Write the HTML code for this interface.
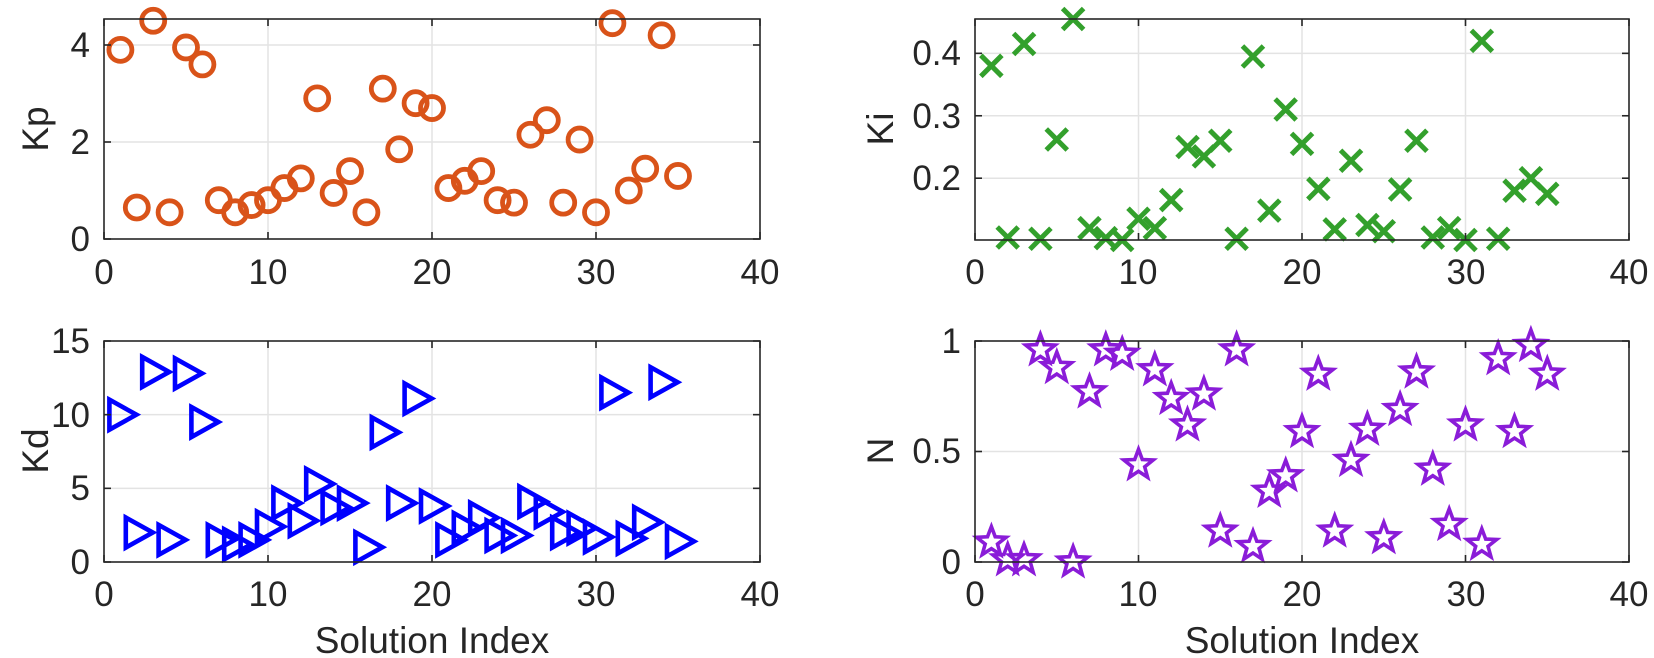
<!DOCTYPE html>
<html><head><meta charset="utf-8"><style>
html,body{margin:0;padding:0;background:#fff;}
svg{display:block;}
text{font-family:"Liberation Sans",sans-serif;fill:#262626;}
</style></head><body>
<svg id="s" width="1654" height="658" viewBox="0 0 1654 658" xmlns="http://www.w3.org/2000/svg">
<g id="grid"></g>
<g id="marks"></g>
<g id="axes"></g>
<g font-size="35">
<text x="104" y="284" text-anchor="middle">0</text>
<text x="268" y="284" text-anchor="middle">10</text>
<text x="432" y="284" text-anchor="middle">20</text>
<text x="596" y="284" text-anchor="middle">30</text>
<text x="760" y="284" text-anchor="middle">40</text>
<text x="975" y="284" text-anchor="middle">0</text>
<text x="1138" y="284" text-anchor="middle">10</text>
<text x="1302" y="284" text-anchor="middle">20</text>
<text x="1466" y="284" text-anchor="middle">30</text>
<text x="1629" y="284" text-anchor="middle">40</text>
<text x="104" y="606" text-anchor="middle">0</text>
<text x="268" y="606" text-anchor="middle">10</text>
<text x="432" y="606" text-anchor="middle">20</text>
<text x="596" y="606" text-anchor="middle">30</text>
<text x="760" y="606" text-anchor="middle">40</text>
<text x="975" y="606" text-anchor="middle">0</text>
<text x="1138" y="606" text-anchor="middle">10</text>
<text x="1302" y="606" text-anchor="middle">20</text>
<text x="1466" y="606" text-anchor="middle">30</text>
<text x="1629" y="606" text-anchor="middle">40</text>
<text x="90" y="251" text-anchor="end">0</text>
<text x="90" y="154" text-anchor="end">2</text>
<text x="90" y="57" text-anchor="end">4</text>
<text x="961" y="65" text-anchor="end">0.4</text>
<text x="961" y="128" text-anchor="end">0.3</text>
<text x="961" y="190" text-anchor="end">0.2</text>
<text x="90" y="574" text-anchor="end">0</text>
<text x="90" y="500" text-anchor="end">5</text>
<text x="90" y="427" text-anchor="end">10</text>
<text x="90" y="353" text-anchor="end">15</text>
<text x="961" y="574" text-anchor="end">0</text>
<text x="961" y="463" text-anchor="end">0.5</text>
<text x="961" y="353" text-anchor="end">1</text>
</g>
<g font-size="37">
<text x="432" y="653" text-anchor="middle">Solution Index</text>
<text x="1302" y="653" text-anchor="middle">Solution Index</text>
<text transform="translate(48,129) rotate(-90)" text-anchor="middle">Kp</text>
<text transform="translate(893,129) rotate(-90)" text-anchor="middle">Ki</text>
<text transform="translate(48,451) rotate(-90)" text-anchor="middle">Kd</text>
<text transform="translate(893,451) rotate(-90)" text-anchor="middle">N</text>
</g>
</svg>
<script>
var NS="http://www.w3.org/2000/svg";
function el(p,t,a){var e=document.createElementNS(NS,t);for(var k in a)e.setAttribute(k,a[k]);p.appendChild(e);return e;}
var G=document.getElementById('grid'),M=document.getElementById('marks'),A=document.getElementById('axes');
var P=[
 {l:104,r:760,t:19,b:239,y0:0,y1:4.536,yt:[0,2,4],m:'o',c:'#D95319',
  d:[3.9,0.65,4.5,0.55,3.95,3.6,0.8,0.55,0.7,0.8,1.05,1.25,2.9,0.95,1.4,0.55,3.1,1.85,2.8,2.7,1.05,1.2,1.4,0.8,0.75,2.15,2.45,0.75,2.05,0.55,4.45,1.0,1.45,4.2,1.3]},
 {l:975,r:1629,t:19,b:240,y0:0.101,y1:0.455,yt:[0.2,0.3,0.4],m:'x',c:'#33A02C',
  d:[0.38,0.105,0.415,0.103,0.262,0.455,0.12,0.104,0.101,0.135,0.12,0.165,0.25,0.235,0.26,0.103,0.395,0.148,0.31,0.255,0.183,0.118,0.228,0.125,0.115,0.182,0.26,0.105,0.12,0.101,0.42,0.103,0.18,0.2,0.175]},
 {l:104,r:760,t:341,b:562,y0:0,y1:15,yt:[0,5,10,15],m:'t',c:'#0000FF',
  d:[10,2,12.9,1.5,12.8,9.5,1.5,1.2,1.5,2.4,4.0,2.8,5.3,3.7,4.0,1.0,8.8,4.0,11.1,3.8,1.5,2.3,3.0,1.8,1.8,4.1,3.4,2.0,2.3,1.7,11.5,1.6,2.7,12.2,1.4]},
 {l:975,r:1629,t:341,b:562,y0:0,y1:1,yt:[0,0.5,1],m:'s',c:'#8A1CD8',
  d:[0.09,0.01,0.01,0.96,0.88,0.0,0.77,0.96,0.94,0.44,0.87,0.74,0.62,0.76,0.14,0.96,0.07,0.32,0.39,0.59,0.85,0.14,0.46,0.6,0.11,0.69,0.86,0.42,0.17,0.62,0.08,0.92,0.59,0.98,0.85]}
];
function star(cx,cy,R){var r=R*0.42,s='';for(var i=0;i<10;i++){var a=-Math.PI/2+i*Math.PI/5,rr=i%2?r:R;s+=(cx+rr*Math.cos(a)).toFixed(1)+','+(cy+rr*Math.sin(a)).toFixed(1)+' ';}return s;}
P.forEach(function(p){
 var X=function(v){return p.l+(p.r-p.l)*v/40;},Y=function(v){return p.b-(p.b-p.t)*(v-p.y0)/(p.y1-p.y0);};
 [10,20,30].forEach(function(v){el(G,'line',{x1:X(v),x2:X(v),y1:p.t,y2:p.b,stroke:'#e3e3e3','stroke-width':1.5});});
 p.yt.forEach(function(v){var y=Y(v);if(y>p.t+1&&y<p.b-1)el(G,'line',{x1:p.l,x2:p.r,y1:y,y2:y,stroke:'#e3e3e3','stroke-width':1.5});});
 el(A,'rect',{x:p.l,y:p.t,width:p.r-p.l,height:p.b-p.t,fill:'none',stroke:'#262626','stroke-width':1.6});
 [0,10,20,30,40].forEach(function(v){el(A,'line',{x1:X(v),x2:X(v),y1:p.b,y2:p.b-7,stroke:'#262626','stroke-width':1.6});el(A,'line',{x1:X(v),x2:X(v),y1:p.t,y2:p.t+7,stroke:'#262626','stroke-width':1.6});});
 p.yt.forEach(function(v){var y=Y(v);el(A,'line',{x1:p.l,x2:p.l+7,y1:y,y2:y,stroke:'#262626','stroke-width':1.6});el(A,'line',{x1:p.r,x2:p.r-7,y1:y,y2:y,stroke:'#262626','stroke-width':1.6});});
 p.d.forEach(function(v,i){var x=X(i+1),y=Y(v);
  if(p.m=='o')el(M,'circle',{cx:x,cy:y,r:11.5,fill:'none',stroke:p.c,'stroke-width':4.8});
  else if(p.m=='x'){var h=10.5;el(M,'path',{d:'M'+(x-h)+','+(y-h)+'L'+(x+h)+','+(y+h)+'M'+(x-h)+','+(y+h)+'L'+(x+h)+','+(y-h),stroke:p.c,'stroke-width':5,fill:'none'});}
  else if(p.m=='t'){el(M,'polygon',{points:(x-11)+','+(y-15)+' '+(x+16)+','+y+' '+(x-11)+','+(y+15),fill:'none',stroke:p.c,'stroke-width':4.6,'stroke-linejoin':'miter'});}
  else el(M,'polygon',{points:star(x,y,15.5),fill:'none',stroke:p.c,'stroke-width':3.6,'stroke-linejoin':'miter'});
 });
});
</script>
</body></html>
